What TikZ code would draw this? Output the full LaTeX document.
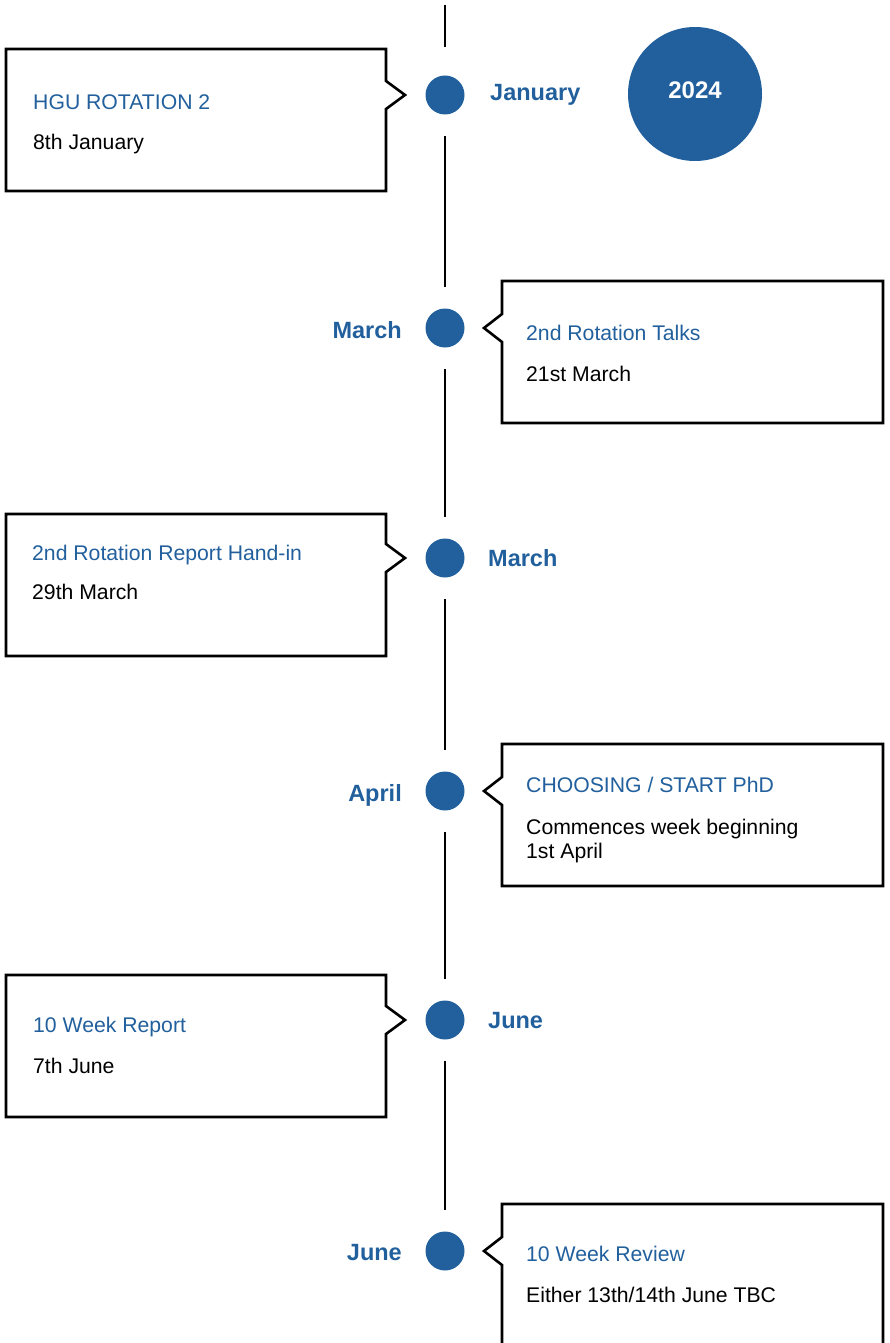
\documentclass[tikz,border=0pt]{standalone}
\usepackage{fontspec}
\setmainfont{Liberation Sans}
\definecolor{tlblue}{HTML}{22609D}
\begin{document}
\begin{tikzpicture}[x=1pt,y=-1pt,
 dot/.style={circle,fill=tlblue,minimum size=39pt,inner sep=0pt},
 seg/.style={line width=2.6pt,draw=black,shorten <=21.5pt,shorten >=21.5pt},
 callout/.style={draw=black,line width=2.6pt,fill=white,line join=miter},
 ttl/.style={anchor=base west,inner sep=0pt,text=tlblue,font=\fontsize{21.2}{25}\selectfont},
 bodytext/.style={anchor=base west,inner sep=0pt,text=black,font=\fontsize{21.2}{25}\selectfont},
 monthR/.style={anchor=base west,inner sep=0pt,text=tlblue,font=\fontsize{23.5}{28}\selectfont\bfseries},
 monthL/.style={anchor=base east,inner sep=0pt,text=tlblue,font=\fontsize{23.5}{28}\selectfont\bfseries},
]
\useasboundingbox (0,0) rectangle (889,1343);

% year badge
\node[circle,fill=tlblue,minimum size=134pt,inner sep=0pt] (yr) at (695,94) {};
\node[anchor=base,inner sep=0pt,text=white,font=\fontsize{24}{28}\selectfont\bfseries] (yrtext) at (695,98.5) {2024};

% dots
\node[dot] (d1) at (445,95) {};
\node[dot] (d2) at (445,328) {};
\node[dot] (d3) at (445,558) {};
\node[dot] (d4) at (445,791) {};
\node[dot] (d5) at (445,1020) {};
\node[dot] (d6) at (445,1251) {};
\coordinate (top) at (445,5);

% timeline segments
\draw[seg,shorten <=0pt,shorten >=28.5pt] (top) -- (d1);
\draw[seg] (d1) -- (d2);
\draw[seg] (d2) -- (d3);
\draw[seg] (d3) -- (d4);
\draw[seg] (d4) -- (d5);
\draw[seg] (d5) -- (d6);

% callout boxes
\draw[callout] (6,49) -- (386,49) -- (386,81) -- (405,95) -- (386,109) -- (386,191) -- (6,191) -- cycle;
\draw[callout] (502,281) -- (883,281) -- (883,423) -- (502,423) -- (502,342) -- (484,328) -- (502,314) -- cycle;
\draw[callout] (6,514) -- (386,514) -- (386,544) -- (405,558) -- (386,572) -- (386,656) -- (6,656) -- cycle;
\draw[callout] (502,744) -- (883,744) -- (883,886) -- (502,886) -- (502,805) -- (484,791) -- (502,777) -- cycle;
\draw[callout] (6,975) -- (386,975) -- (386,1006) -- (405,1020) -- (386,1034) -- (386,1117) -- (6,1117) -- cycle;
\draw[callout] (502,1204) -- (883,1204) -- (883,1350) -- (502,1350) -- (502,1265) -- (484,1251) -- (502,1237) -- cycle;

% box texts
\node[ttl] (t1) at (33,110) {HGU ROTATION 2};
\node[bodytext] (b1) at (33,150) {8th January};
\node[ttl] (t2) at (526,340) {2nd Rotation Talks};
\node[bodytext] (b2) at (526,381) {21st March};
\node[ttl] (t3) at (32,560) {2nd Rotation Report Hand-in};
\node[bodytext] (b3) at (32,599) {29th March};
\node[ttl] (t4) at (526,792) {CHOOSING / START PhD};
\node[bodytext] (b4a) at (526,834) {Commences week beginning};
\node[bodytext] (b4b) at (526,858) {1st April};
\node[ttl] (t5) at (33,1032) {10 Week Report};
\node[bodytext] (b5) at (33,1073) {7th June};
\node[ttl] (t6) at (526,1261) {10 Week Review};
\node[bodytext] (b6) at (526,1302) {Either 13th/14th June TBC};

% month labels
\node[monthR] (m1) at (490,101) {January};
\node[monthL] (m2) at (402,338) {March};
\node[monthR] (m3) at (488,566) {March};
\node[monthL] (m4) at (402,801) {April};
\node[monthR] (m5) at (488,1028) {June};
\node[monthL] (m6) at (402,1260) {June};
\end{tikzpicture}
\end{document}
